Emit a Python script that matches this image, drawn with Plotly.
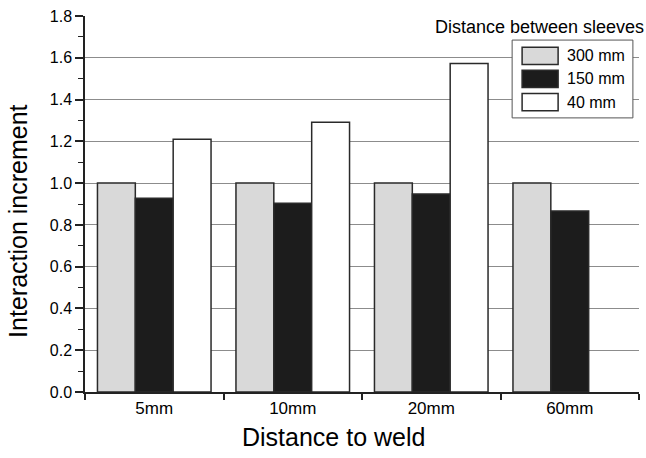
import plotly.graph_objects as go

categories = ["5mm", "10mm", "20mm", "60mm"]
series_names = ["300 mm", "150 mm", "40 mm"]
v300 = [1.0, 1.0, 1.0, 1.0]
v150 = [0.927, 0.904, 0.948, 0.866]
v40 = [1.21, 1.292, 1.573, None]
colors = ["#d9d9d9", "#1c1c1c", "#ffffff"]
x_title = "Distance to weld"
y_title = "Interaction increment"
legend_title = "Distance between sleeves"

FONT = "Liberation Sans, Arial, Helvetica, sans-serif"

fig = go.Figure()
for name, vals, col in zip(series_names, [v300, v150, v40], colors):
    fig.add_trace(go.Bar(
        x=categories, y=vals, name=name, marker_color=col,
        marker_line_color="#2a2a2a", marker_line_width=1.5,
        showlegend=False,
    ))

# manual legend (large swatches as in the reference)
lx0, lx1, ly0, ly1 = 0.771, 0.989, 0.729, 0.936
fig.add_shape(type="rect", xref="paper", yref="paper", x0=lx0, x1=lx1, y0=ly0, y1=ly1,
              line=dict(color="#555555", width=1), fillcolor="white", layer="above")
row_centers = [0.894, 0.833, 0.771]
for name, col, yc in zip(series_names, colors, row_centers):
    fig.add_shape(type="rect", xref="paper", yref="paper", x0=0.789, x1=0.854,
                  y0=yc - 0.023, y1=yc + 0.023,
                  line=dict(color="#2a2a2a", width=1.5), fillcolor=col, layer="above")
    fig.add_annotation(xref="paper", yref="paper", x=0.866, y=yc, text=name,
                       showarrow=False, xanchor="left", yanchor="middle",
                       font=dict(family=FONT, size=16, color="black"))
fig.add_annotation(xref="paper", yref="paper", x=1.012, y=0.971,
                   text=legend_title, showarrow=False,
                   xanchor="right", yanchor="middle",
                   font=dict(family=FONT, size=18, color="black"))

# axis titles placed as in the reference
fig.add_annotation(xref="paper", yref="paper", x=0.448, y=-0.12, text=x_title,
                   showarrow=False, xanchor="center", yanchor="middle",
                   font=dict(family=FONT, size=25, color="black"))
fig.add_annotation(xref="paper", yref="paper", x=-0.121, y=0.455, text=y_title,
                   showarrow=False, xanchor="center", yanchor="middle", textangle=-90,
                   font=dict(family=FONT, size=25, color="black"))

fig.update_layout(
    width=646, height=458,
    margin=dict(l=85, r=7, t=16, b=66),
    paper_bgcolor="white", plot_bgcolor="white",
    barmode="group", bargap=0.18, bargroupgap=0,
    font=dict(family=FONT, color="black"),
    xaxis=dict(
        showline=True, linecolor="#222222", linewidth=1.5,
        ticks="outside", tickson="boundaries", ticklen=6, tickwidth=1.5, tickcolor="#222222",
        tickfont=dict(size=17), showgrid=False,
    ),
    yaxis=dict(
        range=[0, 1.8001], tick0=0, dtick=0.2, tickformat=".1f",
        showline=True, linecolor="#222222", linewidth=1.5,
        ticks="outside", ticklen=8, tickwidth=1.5, tickcolor="#222222",
        tickfont=dict(size=16),
        showgrid=True, gridcolor="#8c8c8c", gridwidth=1, zeroline=False,
        minor=dict(dtick=0.1, ticks="outside", ticklen=5, tickwidth=1.2, tickcolor="#222222", showgrid=False),
    ),
)

fig.write_html("out.html")
